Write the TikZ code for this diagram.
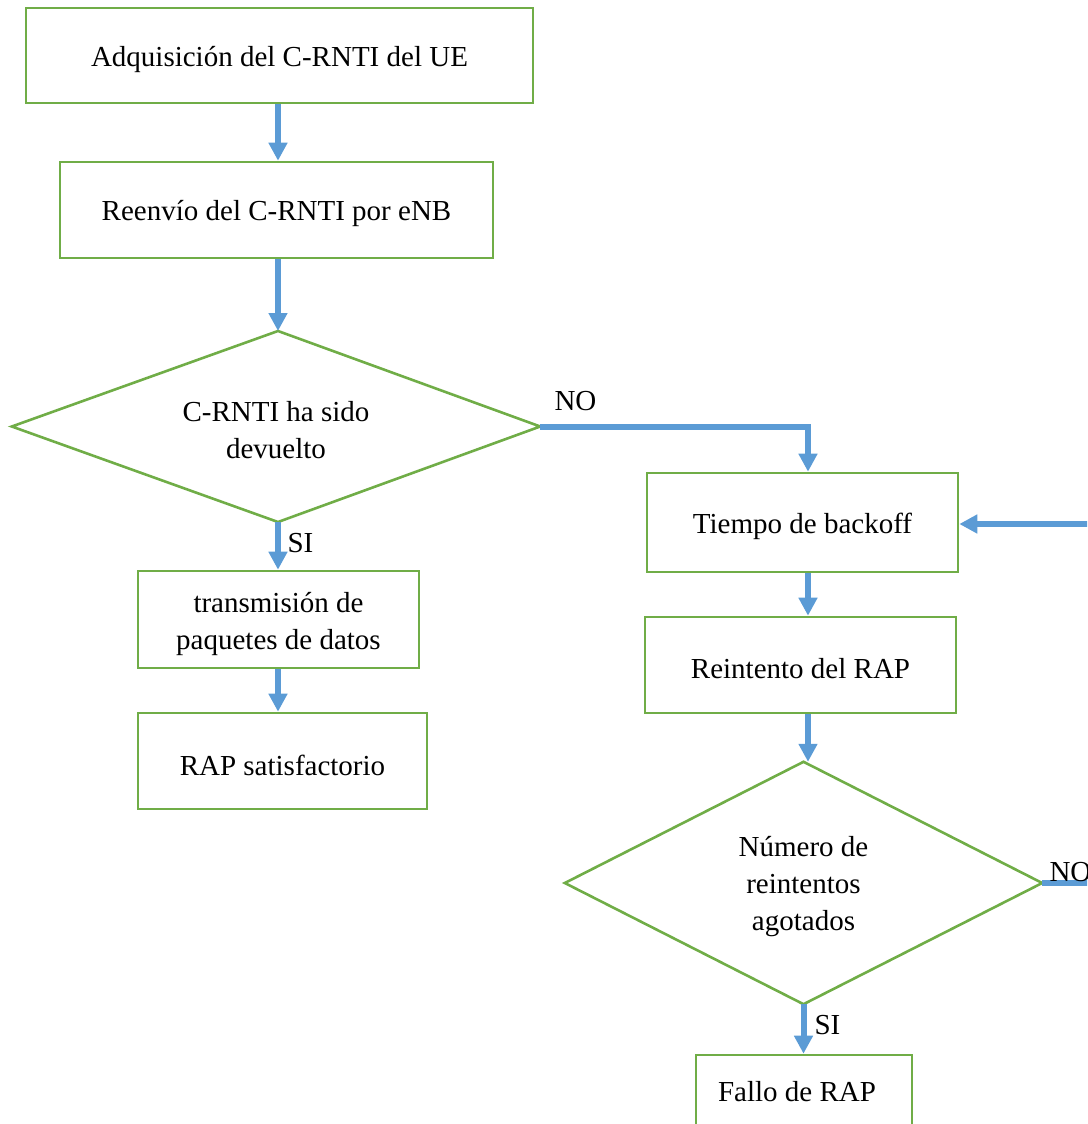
\documentclass[tikz,border=0pt]{standalone}
\usepackage{fontspec}
\setmainfont{Liberation Serif}
\usetikzlibrary{arrows.meta}
\definecolor{boxgreen}{HTML}{70AD47}
\definecolor{arrblue}{HTML}{5B9BD5}
\begin{document}
\begin{tikzpicture}[x=1pt,y=-1pt,
  font=\fontsize{29}{37}\selectfont,
  box/.style={draw=boxgreen,line width=2.6pt,rectangle,inner sep=0pt},
  txt/.style={inner sep=0pt,align=center,yshift=-4pt},
  dshape/.style={rectangle,inner sep=0pt},
  dline/.style={draw=boxgreen,line width=2.6pt,line join=miter},
  arr/.style={draw=arrblue,line width=6pt,-{Triangle[length=18pt,width=18pt]}},
  lin/.style={draw=arrblue,line width=6pt}]
\useasboundingbox (0,0) rectangle (1087,1124);
\begin{scope}
\clip (0,0) rectangle (1087,1124);
% boxes
\node[box,minimum width=507pt,minimum height=95pt] (b1) at (279.5,55.5) {};
\node[txt] (t1) at (b1.center) {Adquisición del C-RNTI del UE};
\node[box,minimum width=433pt,minimum height=96pt] (b2) at (276.5,210) {};
\node[txt] (t2) at (b2.center) {Reenvío del C-RNTI por eNB};
\node[dshape,minimum width=528pt,minimum height=191pt] (d1) at (276,426.5) {};
\draw[dline] (278,331) -- (d1.east) -- (278,522) -- (d1.west) -- cycle;
\node[txt] (td1) at (d1.center) {C-RNTI ha sido\\devuelto};
\coordinate (d1n) at (278,331);
\coordinate (d1s) at (278,522);
\node[box,minimum width=281pt,minimum height=97pt] (b3) at (278.5,619.5) {};
\node[txt] (t3) at (b3.center) {transmisión de\\paquetes de datos};
\node[box,minimum width=289pt,minimum height=96pt] (b4) at (282.5,761) {};
\node[txt] (t4) at (b4.center) {RAP satisfactorio};
\node[box,minimum width=311pt,minimum height=99pt] (b5) at (802.5,522.5) {};
\node[txt] (t5) at (b5.center) {Tiempo de backoff};
\node[box,minimum width=311pt,minimum height=96pt] (b6) at (800.5,665) {};
\node[txt] (t6) at (b6.center) {Reintento del RAP};
\node[dshape,minimum width=477pt,minimum height=242pt] (d2) at (803.5,883) {};
\draw[dline] (d2.north) -- (d2.east) -- (d2.south) -- (d2.west) -- cycle;
\node[txt] (td2) at (d2.center) {Número de\\reintentos\\agotados};
\node[box,minimum width=216pt,minimum height=110pt] (b7) at (804,1110) {};
\node[txt] (t7) at (797,1088) {Fallo de RAP};
% connectors
\draw[arr] (b1.south -| 278,0) -- (b2.north -| 278,0);
\draw[arr] (b2.south -| 278,0) -- (d1n);
\draw[arr] (d1s) -- (b3.north -| 278,0);
\draw[arr] (b3.south -| 278,0) -- (b4.north -| 278,0);
\draw[arr] (d1.east) -- (808,426.5) -- (b5.north -| 808,0);
\draw[arr] (b5.south -| 808,0) -- (b6.north -| 808,0);
\draw[arr] (b6.south -| 808,0) -- (d2.north -| 808,0);
\draw[arr] (d2.south) -- (b7.north -| d2.south);
\coordinate (rin) at (1092,524);
\draw[arr] (rin) -- (b5.east |- rin);
\coordinate (rout) at (1092,883);
\draw[lin] (d2.east) -- (rout);
% labels
\node[anchor=base west] (lno1) at (551,410) {NO};
\node[anchor=base west] (lsi1) at (284,552) {SI};
\node[anchor=base west] (lno2) at (1046,881) {NO};
\node[anchor=base west] (lsi2) at (811,1034) {SI};
\end{scope}
\end{tikzpicture}
\end{document}
